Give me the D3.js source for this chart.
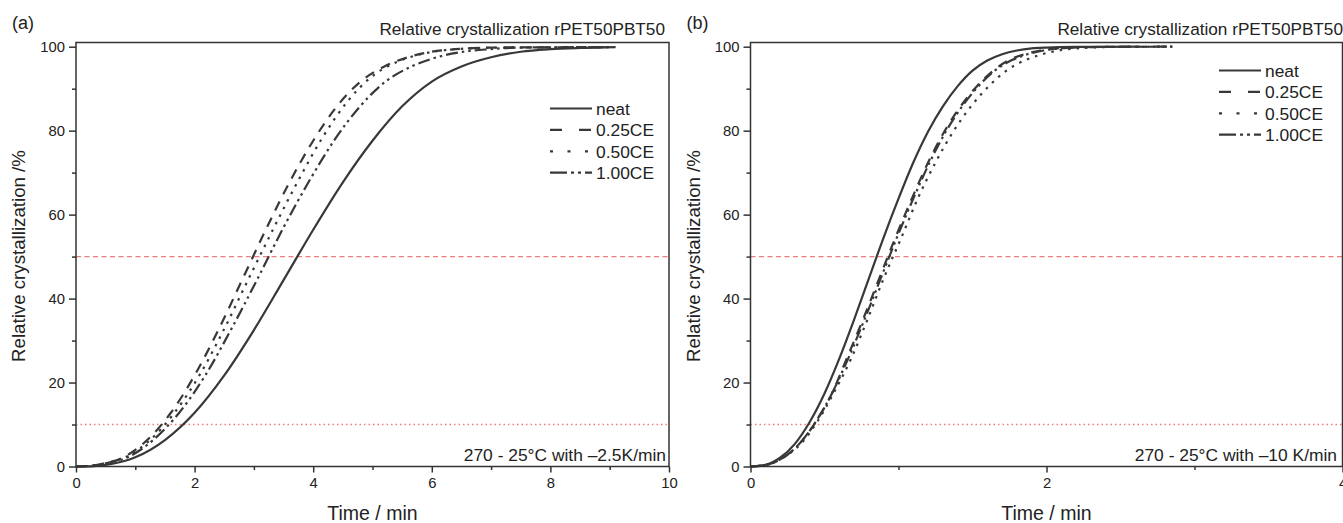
<!DOCTYPE html>
<html>
<head>
<meta charset="utf-8">
<script src="https://cdn.jsdelivr.net/npm/d3@7"></script>
<style>
  body { margin: 0; background: #fff; }
  svg { display: block; font-family: "Liberation Sans", Arial, sans-serif; }
  .tick text { fill: #222; }
</style>
</head>
<body>
<svg id="chart" width="1343" height="523"></svg>
<script>
"use strict";

// Series names, same order in both panels
const seriesNames = ["neat", "0.25CE", "0.50CE", "1.00CE"];

// Panel (a): -2.5 K/min, time in min, relative crystallization in %
const aNeatT = [0, 0.3, 0.6, 1, 1.5, 2, 2.5, 3, 3.5, 4, 4.5, 5, 5.5, 6, 6.5, 7, 7.5, 8, 8.5, 9.1];
const aNeatY = [0, 0.1, 0.6, 2.2, 6.3, 12.8, 21.7, 32.5, 44.4, 56.4, 67.7, 77.6, 85.8, 91.7, 95.3, 97.5, 98.8, 99.4, 99.7, 99.9];
const a025T = [0, 0.25, 0.5, 0.8, 1.2, 1.6, 2.0, 2.4, 2.8, 3.2, 3.6, 4.0, 4.4, 4.8, 5.2, 5.6, 6.0, 6.4, 7.0, 9.0];
const a025Y = [0, 0.2, 0.8, 2.2, 6.3, 12.8, 21.7, 32.5, 44.4, 56.4, 67.7, 77.6, 85.8, 91.7, 95.3, 97.5, 98.8, 99.4, 99.8, 99.9];
const a050T = [0, 0.25, 0.5, 0.83, 1.25, 1.66, 2.08, 2.49, 2.9, 3.32, 3.74, 4.15, 4.57, 4.98, 5.4, 5.81, 6.23, 6.64, 7.2, 9.0];
const a050Y = [0, 0.2, 0.8, 2.2, 6.3, 12.8, 21.7, 32.5, 44.4, 56.4, 67.9, 78.2, 86.8, 92.8, 96.3, 98.2, 99.2, 99.6, 99.8, 99.9];
const a100T = [0, 0.26, 0.52, 0.87, 1.3, 1.74, 2.18, 2.61, 3.05, 3.48, 3.92, 4.35, 4.79, 5.22, 5.66, 6.09, 6.53, 6.96, 7.5, 9.0];
const a100Y = [0, 0.2, 0.8, 2.2, 6.3, 12.8, 21.7, 32.5, 44.4, 56.4, 67.7, 77.6, 85.8, 91.7, 95.3, 97.5, 98.8, 99.4, 99.8, 99.9];

// Panel (b): -10 K/min
const bNeatT = [0, 0.1, 0.2, 0.3, 0.4, 0.5, 0.6, 0.7, 0.8, 0.9, 1.0, 1.1, 1.2, 1.3, 1.4, 1.5, 1.6, 1.7, 1.8, 1.9, 2.0, 2.2, 2.63];
const bNeatY = [0, 0.4, 2.1, 5.4, 10.6, 17.4, 25.7, 35.0, 44.8, 54.6, 63.8, 72.4, 79.8, 85.8, 90.6, 94.3, 96.7, 98.2, 99.1, 99.6, 99.8, 99.95, 100];
const b025T = [0, 0.11, 0.22, 0.33, 0.44, 0.55, 0.65, 0.76, 0.87, 0.98, 1.09, 1.2, 1.31, 1.42, 1.53, 1.64, 1.74, 1.85, 1.96, 2.07, 2.18, 2.4, 2.85];
const b025Y = [0, 0.4, 2.1, 5.4, 10.6, 17.4, 25.7, 35.0, 44.8, 54.6, 63.8, 72.4, 79.8, 85.8, 90.6, 94.3, 96.7, 98.2, 99.1, 99.6, 99.8, 99.95, 100];
const b050T = [0, 0.11, 0.22, 0.34, 0.45, 0.56, 0.68, 0.79, 0.9, 1.02, 1.13, 1.25, 1.37, 1.49, 1.61, 1.73, 1.85, 1.97, 2.08, 2.2, 2.3, 2.5, 2.85];
const b050Y = [0, 0.4, 2.1, 5.4, 10.6, 17.4, 25.7, 35.0, 44.8, 54.6, 63.8, 72.4, 79.8, 85.8, 90.6, 94.3, 96.7, 98.2, 99.1, 99.6, 99.8, 99.95, 100];
const b100T = [0, 0.11, 0.22, 0.33, 0.44, 0.55, 0.66, 0.77, 0.88, 0.99, 1.1, 1.21, 1.32, 1.43, 1.54, 1.65, 1.76, 1.87, 1.98, 2.09, 2.2, 2.42, 2.85];
const b100Y = [0, 0.4, 2.1, 5.4, 10.6, 17.4, 25.7, 35.0, 44.8, 54.6, 63.8, 72.4, 79.8, 85.8, 90.6, 94.3, 96.7, 98.2, 99.1, 99.6, 99.8, 99.95, 100];

// Reference levels (red lines)
const halfLevel = 50;
const tenLevel = 10;

// Axis ticks
const yTicks = [0, 20, 40, 60, 80, 100];
const yMinor = [10, 30, 50, 70, 90];
const aXTicks = [0, 2, 4, 6, 8, 10];
const aXMinor = [1, 3, 5, 7, 9];
const bXTicks = [0, 2, 4];
const bXMinor = [1, 3];

const lineColor = "#383838";
const redColor = "#f07c7c";

// dash patterns: curve, legend sample
const curveDash = [null, "10,8", "2.5,6", "12,4,2.5,4,2.5,4"];
const legendDash = [null, "12,17", "3,14.5", "17,4,3,4,3,4"];

const svg = d3.select("#chart");

function zip(ts, ys) {
    return ts.map((t, i) => ({ t: t, y: ys[i] }));
}

function drawPanel(p) {
    const x = d3.scaleLinear().domain(p.xDomain).range([p.left, p.right]);
    const y = d3.scaleLinear().domain([0, 101]).range([466.5, 42.5]);
    const g = svg.append("g");

    // reference lines
    g.append("line")
        .attr("x1", p.left).attr("x2", p.right)
        .attr("y1", y(halfLevel)).attr("y2", y(halfLevel))
        .attr("stroke", redColor).attr("stroke-width", 1.3)
        .attr("stroke-dasharray", "5,3.5");
    g.append("line")
        .attr("x1", p.left).attr("x2", p.right)
        .attr("y1", y(tenLevel)).attr("y2", y(tenLevel))
        .attr("stroke", redColor).attr("stroke-width", 1.3)
        .attr("stroke-dasharray", "1.5,3");

    // curves
    const line = d3.line()
        .x(d => x(d.t))
        .y(d => y(d.y))
        .curve(d3.curveMonotoneX);

    p.series.forEach((s, i) => {
        g.append("path")
            .datum(s)
            .attr("fill", "none")
            .attr("stroke", lineColor)
            .attr("stroke-width", 2.2)
            .attr("stroke-dasharray", curveDash[i])
            .attr("d", line);
    });

    // frame
    g.append("rect")
        .attr("x", p.left).attr("y", y(101))
        .attr("width", p.right - p.left).attr("height", y(0) - y(101))
        .attr("fill", "none").attr("stroke", "#333").attr("stroke-width", 1.5);

    // axes
    const yAxis = d3.axisLeft(y).tickValues(yTicks).tickSize(7).tickPadding(4).tickFormat(d3.format("d"));
    const yAxisMinor = d3.axisLeft(y).tickValues(yMinor).tickSize(4).tickFormat("");
    const xAxis = d3.axisBottom(x).tickValues(p.xTicks).tickSize(6).tickPadding(5).tickFormat(d3.format("d"));
    const xAxisMinor = d3.axisBottom(x).tickValues(p.xMinor).tickSize(3.5).tickFormat("");

    [yAxis, yAxisMinor].forEach(ax => {
        g.append("g").attr("transform", `translate(${p.left},0)`).call(ax)
            .call(a => a.select(".domain").remove())
            .call(a => a.selectAll("line").attr("stroke", "#333").attr("stroke-width", 1.5))
            .call(a => a.selectAll("text").style("font-size", "14.8px"));
    });
    [xAxis, xAxisMinor].forEach(ax => {
        g.append("g").attr("transform", `translate(0,${y(0)})`).call(ax)
            .call(a => a.select(".domain").remove())
            .call(a => a.selectAll("line").attr("stroke", "#333").attr("stroke-width", 1.5))
            .call(a => a.selectAll("text").style("font-size", "14.8px"));
    });

    // axis titles
    g.append("text")
        .attr("x", (p.left + p.right) / 2).attr("y", 520)
        .attr("text-anchor", "middle")
        .style("font-size", "19.5px").attr("fill", "#222")
        .text("Time / min");
    g.append("text")
        .attr("transform", `translate(${p.left - 51},256) rotate(-90)`)
        .attr("text-anchor", "middle")
        .style("font-size", "18.7px").attr("fill", "#222")
        .text("Relative crystallization /%");

    // title, panel letter, condition note
    g.append("text")
        .attr("x", p.titleRight).attr("y", 35)
        .attr("text-anchor", "end")
        .style("font-size", "17.2px").attr("fill", "#222")
        .text("Relative crystallization rPET50PBT50");
    g.append("text")
        .attr("x", p.left - 64).attr("y", 29)
        .style("font-size", "18px").attr("fill", "#222")
        .text(p.letter);
    g.append("text")
        .attr("x", p.noteRight).attr("y", 461)
        .attr("text-anchor", "end")
        .style("font-size", "17.4px").attr("fill", "#222")
        .text(p.note);

    // legend
    const lg = g.append("g").attr("transform", `translate(${p.legendX},${p.legendY})`);
    seriesNames.forEach((name, i) => {
        const ly = i * 21.4;
        lg.append("line")
            .attr("x1", 0).attr("x2", 42)
            .attr("y1", ly).attr("y2", ly)
            .attr("stroke", lineColor).attr("stroke-width", 2.2)
            .attr("stroke-dasharray", legendDash[i]);
        lg.append("text")
            .attr("x", 46).attr("y", ly + 6.5)
            .style("font-size", "17.4px").attr("fill", "#222")
            .text(name);
    });
}

drawPanel({
    letter: "(a)",
    left: 76, right: 669,
    xDomain: [0, 10], xTicks: aXTicks, xMinor: aXMinor,
    titleRight: 665,
    note: "270 - 25\u00B0C with \u20132.5K/min", noteRight: 666,
    legendX: 550, legendY: 108.5,
    series: [zip(aNeatT, aNeatY), zip(a025T, a025Y), zip(a050T, a050Y), zip(a100T, a100Y)]
});

drawPanel({
    letter: "(b)",
    left: 750.5, right: 1342.5,
    xDomain: [0, 4], xTicks: bXTicks, xMinor: bXMinor,
    titleRight: 1343,
    note: "270 - 25\u00B0C with \u201310 K/min", noteRight: 1337,
    legendX: 1219, legendY: 70.5,
    series: [zip(bNeatT, bNeatY), zip(b025T, b025Y), zip(b050T, b050Y), zip(b100T, b100Y)]
});
</script>
</body>
</html>
